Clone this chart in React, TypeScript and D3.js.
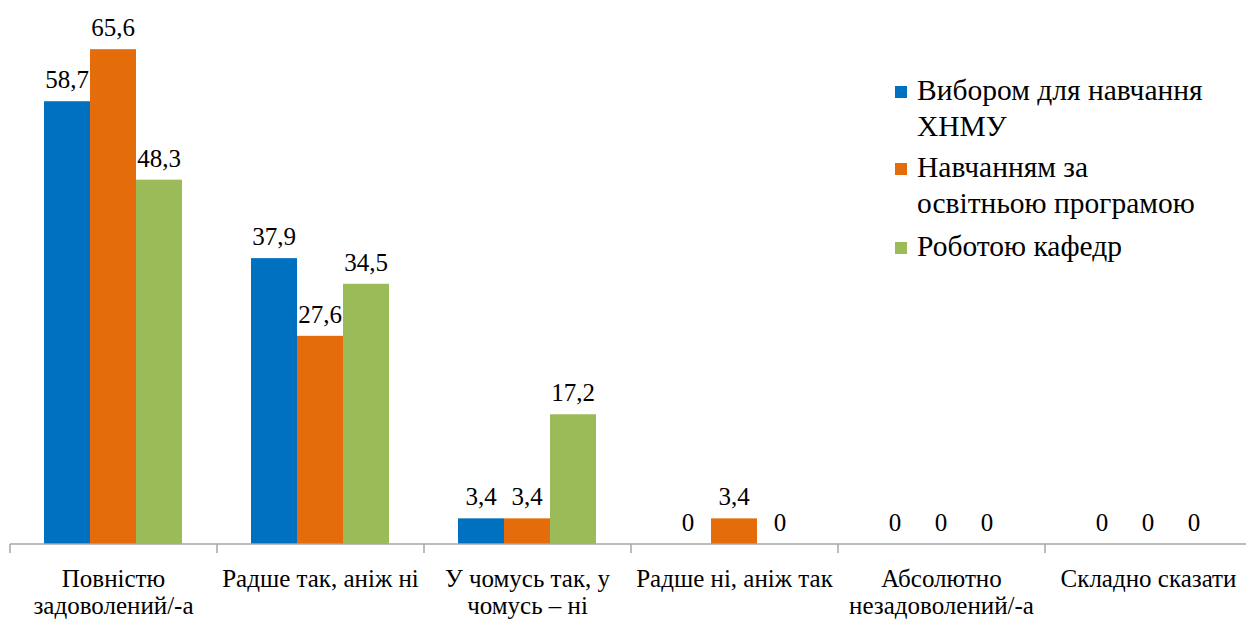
import React from "react";
import { scaleBand, scaleLinear } from "d3";

const categories: string[][] = [
  ["Повністю", "задоволений/-а"],
  ["Радше так, аніж ні"],
  ["У чомусь так, у", "чомусь – ні"],
  ["Радше ні, аніж так"],
  ["Абсолютно", "незадоволений/-а"],
  ["Складно сказати"],
];

const seriesNames: string[][] = [
  ["Вибором для навчання", "ХНМУ"],
  ["Навчанням за", "освітньою програмою"],
  ["Роботою кафедр"],
];

const choiceValues = [58.7, 37.9, 3.4, 0, 0, 0];
const programValues = [65.6, 27.6, 3.4, 3.4, 0, 0];
const deptValues = [48.3, 34.5, 17.2, 0, 0, 0];

const series = [choiceValues, programValues, deptValues];
const colors = ["#0070C0", "#E46C0A", "#9BBB59"];

const W = 1246;
const H = 619;
const left = 10;
const right = 1252;
const baseline = 544;
const font = "'Liberation Serif', 'Times New Roman', Times, serif";

export default function App(): JSX.Element {
  const x0 = scaleBand<number>()
    .domain(categories.map((_, i) => i))
    .range([left, right]);
  const x1 = scaleBand<number>()
    .domain(series.map((_, i) => i))
    .range([34, 34 + 138]);
  const y = scaleLinear().domain([0, 70]).range([baseline, baseline - 528]);

  const fmt = (v: number) => String(v).replace(".", ",");

  return (
    <div style={{ position: "absolute", left: 0, top: 0 }}>
      <svg width={W} height={H} style={{ display: "block", background: "#fff", fontFamily: font }}>
        {/* bars + value labels */}
        {series.map((vals, s) =>
          vals.map((v, c) => {
            const bx = (x0(c) ?? 0) + (x1(s) ?? 0);
            return (
              <g key={`b-${s}-${c}`}>
                {v > 0 && (
                  <rect
                    x={bx}
                    y={y(v)}
                    width={x1.bandwidth()}
                    height={baseline - y(v)}
                    fill={colors[s]}
                  />
                )}
                <text
                  x={bx + x1.bandwidth() / 2}
                  y={y(v) - 13}
                  textAnchor="middle"
                  fontSize={25}
                  fill="#000"
                >
                  {fmt(v)}
                </text>
              </g>
            );
          })
        )}

        {/* axis */}
        <line x1={left} x2={right} y1={baseline} y2={baseline} stroke="#A6A6A6" strokeWidth={1.5} />
        {[...categories.map((_, i) => x0(i) ?? 0), right].map((tx, i) => (
          <line
            key={`t-${i}`}
            x1={tx}
            x2={tx}
            y1={baseline}
            y2={baseline + 9}
            stroke="#A6A6A6"
            strokeWidth={1.5}
          />
        ))}

        {categories.map((lines, i) => (
          <text key={`c-${i}`} textAnchor="middle" fontSize={25} fill="#000">
            {lines.map((ln, j) => (
              <tspan key={j} x={(x0(i) ?? 0) + x0.bandwidth() / 2} y={587 + j * 27}>
                {ln}
              </tspan>
            ))}
          </text>
        ))}

        {/* legend */}
        {seriesNames.map((lines, s) => {
          const top = [86, 163, 242][s];
          return (
            <g key={`l-${s}`}>
              <rect x={895} y={top} width={12} height={12} fill={colors[s]} />
              <text fontSize={29.5} fill="#000">
                {lines.map((ln, j) => (
                  <tspan key={j} x={917} y={top + 14 + j * 36}>
                    {ln}
                  </tspan>
                ))}
              </text>
            </g>
          );
        })}
      </svg>
    </div>
  );
}
